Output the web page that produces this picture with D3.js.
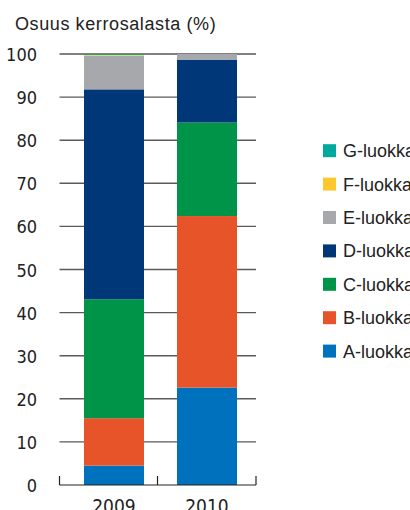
<!DOCTYPE html>
<html>
<head>
<meta charset="utf-8">
<script src="https://cdnjs.cloudflare.com/ajax/libs/d3/7.8.5/d3.min.js"></script>
<style>
  body { margin: 0; background: #fff; }
  svg { display: block; }
</style>
</head>
<body>
<div class="myViz"></div>
<script>
// data
var years = ["2009", "2010"];
var classes = ["A-luokka", "B-luokka", "C-luokka", "D-luokka", "E-luokka", "F-luokka", "G-luokka"];
var share2009 = [4.5, 11.0, 27.6, 48.7, 7.8, 0.2, 0.2];
var share2010 = [22.6, 39.8, 21.7, 14.6, 1.3, 0, 0];
var yTicks = [0, 10, 20, 30, 40, 50, 60, 70, 80, 90, 100];
var colors = ["#0071bc", "#e8542a", "#009448", "#003778", "#a7a8ab", "#fdc82f", "#00a99d"];

var width = 410, height = 510;

var svg = d3.select(".myViz")
  .append("svg")
  .attr("width", width)
  .attr("height", height);

// build rows for stacking
var rows = years.map(function(yr, i) {
  var src = i == 0 ? share2009 : share2010;
  var row = {year: yr};
  classes.forEach(function(c, j) { row[c] = src[j]; });
  return row;
});
var stacked = d3.stack().keys(classes)(rows);

var y = d3.scaleLinear().domain([0, 100]).range([485, 54]);
var x = d3.scaleBand().domain(years).range([84, 237]).paddingInner(0.355);
var axisLeft = 59.5, axisRight = 256;

// title
svg.append("text")
  .attr("x", 15)
  .attr("y", 29.5)
  .style("font-family", "Liberation Sans, Arial, sans-serif")
  .style("font-size", "18px")
  .style("letter-spacing", "0.6px")
  .style("fill", "#222")
  .text("Osuus kerrosalasta (%)");

// gridlines
svg.append("g")
  .selectAll("line")
  .data(yTicks.filter(function(d) { return d > 0; }))
  .enter()
  .append("line")
    .attr("x1", axisLeft)
    .attr("x2", axisRight)
    .attr("y1", function(d) { return y(d); })
    .attr("y2", function(d) { return y(d); })
    .style("stroke", function(d) { return d == 100 ? "#000" : "#5a5a5a"; })
    .style("stroke-width", function(d) { return d == 100 ? 1 : 1.4; });

// y tick labels
svg.append("g")
  .selectAll("text")
  .data(yTicks)
  .enter()
  .append("text")
    .attr("x", 37)
    .attr("y", function(d) { return y(d) + 7; })
    .attr("text-anchor", "end")
    .style("font-family", "Liberation Sans Narrow, DejaVu Sans Condensed, sans-serif")
    .style("font-size", "18px")
    .style("fill", "#222")
    .text(function(d) { return d; });

// bars
svg.append("g")
  .selectAll("g")
  .data(stacked)
  .enter()
  .append("g")
    .style("fill", function(d, i) { return colors[i]; })
  .selectAll("rect")
  .data(function(d) { return d; })
  .enter()
  .append("rect")
    .attr("x", function(d) { return x(d.data.year); })
    .attr("width", x.bandwidth())
    .attr("y", function(d) { return y(d[1]); })
    .attr("height", function(d) { return y(d[0]) - y(d[1]); });

// x axis baseline with tick marks
var axisG = svg.append("g").style("stroke", "#222").style("stroke-width", 1.2);
axisG.append("line")
  .attr("x1", axisLeft).attr("x2", axisRight)
  .attr("y1", y(0)).attr("y2", y(0));
var sep = (x(years[0]) + x.bandwidth() + x(years[1])) / 2 - 3;
axisG.selectAll(".tk")
  .data([axisLeft, sep, axisRight])
  .enter()
  .append("line")
    .attr("x1", function(d) { return d; })
    .attr("x2", function(d) { return d; })
    .attr("y1", y(0) - 9)
    .attr("y2", y(0));

// year labels (cut by the bottom edge, as in the source)
svg.append("g")
  .selectAll("text")
  .data(years)
  .enter()
  .append("text")
    .attr("x", function(d) { return x(d) + x.bandwidth() / 2; })
    .attr("y", 513)
    .attr("text-anchor", "middle")
    .style("font-family", "Liberation Sans Narrow, DejaVu Sans Condensed, sans-serif")
    .style("font-size", "19px")
    .style("fill", "#222")
    .text(function(d) { return d; });

// legend, G on top
var legendOrder = classes.map(function(c, i) { return i; }).reverse();
var legend = svg.append("g")
  .selectAll("g")
  .data(legendOrder)
  .enter()
  .append("g")
    .attr("transform", function(d, k) { return "translate(323," + (150.7 + k * 33.4) + ")"; });

legend.append("rect")
  .attr("x", 0)
  .attr("y", -6.5)
  .attr("width", 13)
  .attr("height", 13)
  .style("fill", function(d) { return colors[d]; });

legend.append("text")
  .attr("x", 20)
  .attr("y", 6.5)
  .style("font-family", "Liberation Sans, Arial, sans-serif")
  .style("font-size", "18px")
  .style("fill", "#222")
  .text(function(d) { return classes[d]; });
</script>
</body>
</html>
